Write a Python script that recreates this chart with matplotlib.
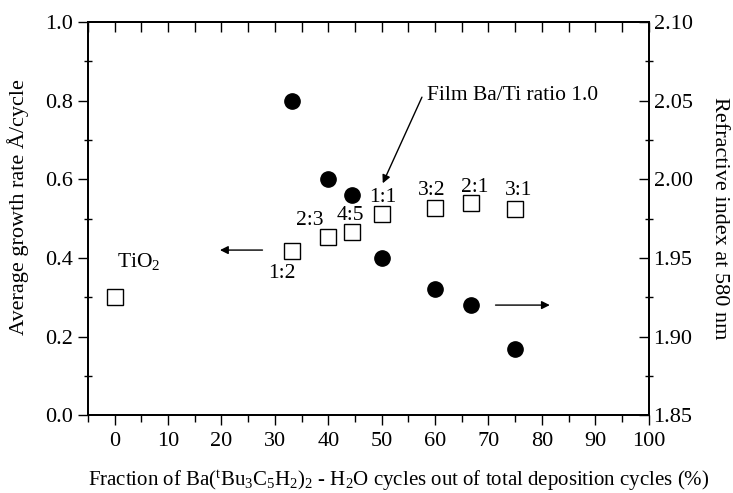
import matplotlib
matplotlib.use("Agg")
import matplotlib.pyplot as plt

plt.rcParams['font.family'] = ['Liberation Serif', 'DejaVu Serif']
plt.rcParams['mathtext.fontset'] = 'custom'
plt.rcParams['mathtext.rm'] = 'Liberation Serif'
plt.rcParams['mathtext.it'] = 'Liberation Serif:italic'

# growth rate (left axis, open squares)
frac_gr = [0, 33.3, 40, 44.4, 50, 60, 66.7, 75]
growth = [0.30, 0.417, 0.454, 0.466, 0.513, 0.528, 0.540, 0.524]
ratio_labels = ['TiO$_2$', '1:2', '2:3', '4:5', '1:1', '3:2', '2:1', '3:1']
label_xy = [(0.5, 0.39), (31.3, 0.36), (36.6, 0.495), (44.1, 0.508),
            (50.2, 0.553), (59.4, 0.571), (67.5, 0.58), (75.7, 0.571)]

# refractive index (right axis, filled circles)
frac_ri = [33.3, 40, 44.4, 50, 60, 66.7, 75]
refr = [2.050, 2.000, 1.990, 1.950, 1.930, 1.920, 1.892]

fig = plt.figure(figsize=(7.33, 4.93), dpi=100)
ax = fig.add_axes([0.120, 0.158, 0.765, 0.797])
ax2 = ax.twinx()

ax.plot(frac_gr, growth, 's', ms=11, mfc='white', mec='black', mew=1.0, zorder=3)
ax2.plot(frac_ri, refr, 'o', ms=11, color='black')

for lab, (x, y) in zip(ratio_labels, label_xy):
    ax.text(x, y, lab, fontsize=15.5, ha='center' if lab != ratio_labels[0] else 'left',
            va='center')

ax.annotate('', xy=(19.2, 0.42), xytext=(28.2, 0.42),
            arrowprops=dict(arrowstyle='-|>', color='black', lw=1, mutation_scale=12))
ax2.annotate('', xy=(82.0, 1.92), xytext=(70.8, 1.92),
             arrowprops=dict(arrowstyle='-|>', color='black', lw=1, mutation_scale=12))
ax.annotate('Film Ba/Ti ratio 1.0', xy=(50.2, 0.59), xytext=(58.5, 0.814),
            fontsize=15.5, va='center', ha='left',
            arrowprops=dict(arrowstyle='-|>', color='black', lw=1, mutation_scale=12,
                            shrinkA=0, shrinkB=0, relpos=(-0.03, 0.4)))

ax.set_xlim(-5, 100)
ax.set_ylim(0, 1.0)
ax2.set_ylim(1.85, 2.10)
ax.set_xticks(range(0, 101, 10))
ax.set_xticks(range(-5, 101, 10), minor=True)
ax.set_yticks([0, 0.2, 0.4, 0.6, 0.8, 1.0])
ax.set_yticks([0.1, 0.3, 0.5, 0.7, 0.9], minor=True)
ax.set_yticklabels(['0.0', '0.2', '0.4', '0.6', '0.8', '1.0'])
ax2.set_yticks([1.85, 1.90, 1.95, 2.00, 2.05, 2.10])
ax2.set_yticks([1.875, 1.925, 1.975, 2.025, 2.075], minor=True)
ax2.set_yticklabels(['1.85', '1.90', '1.95', '2.00', '2.05', '2.10'])

ax.tick_params(axis='x', which='both', direction='out', labelsize=16, width=1, pad=5)
ax.tick_params(axis='x', which='major', length=7)
ax.tick_params(axis='x', which='minor', length=5)
ax.tick_params(axis='y', which='major', direction='out', length=7, width=1, labelsize=16)
ax.tick_params(axis='y', which='minor', direction='inout', length=6, width=1)
ax2.tick_params(axis='y', which='major', direction='in', length=7, width=1, labelsize=16)
ax2.tick_params(axis='y', which='minor', direction='inout', length=6, width=1)

# top axis: inward ticks, no labels
top = ax.secondary_xaxis('top')
top.set_xticks(range(0, 101, 10))
top.set_xticks(range(-5, 101, 10), minor=True)
top.tick_params(which='both', direction='in', labeltop=False, width=1)
top.tick_params(which='major', length=7)
top.tick_params(which='minor', length=7)

for a in (ax, ax2, top):
    for s in a.spines.values():
        s.set_linewidth(1.3)

ax.set_xlabel('Fraction of Ba($^{\\mathrm{t}}$Bu$_3$C$_5$H$_2$)$_2$ - H$_2$O cycles '
              'out of total deposition cycles (%)', fontsize=15, labelpad=9)
ax.xaxis.set_label_coords(0.554, -0.135)
ax.set_ylabel('Average growth rate Å/cycle', fontsize=16, labelpad=4)
ax.yaxis.set_label_coords(-0.105, 0.53)
ax2.set_ylabel('Refractive index at 580 nm', fontsize=16, rotation=270, labelpad=26)

fig.savefig('out.png', dpi=100)
